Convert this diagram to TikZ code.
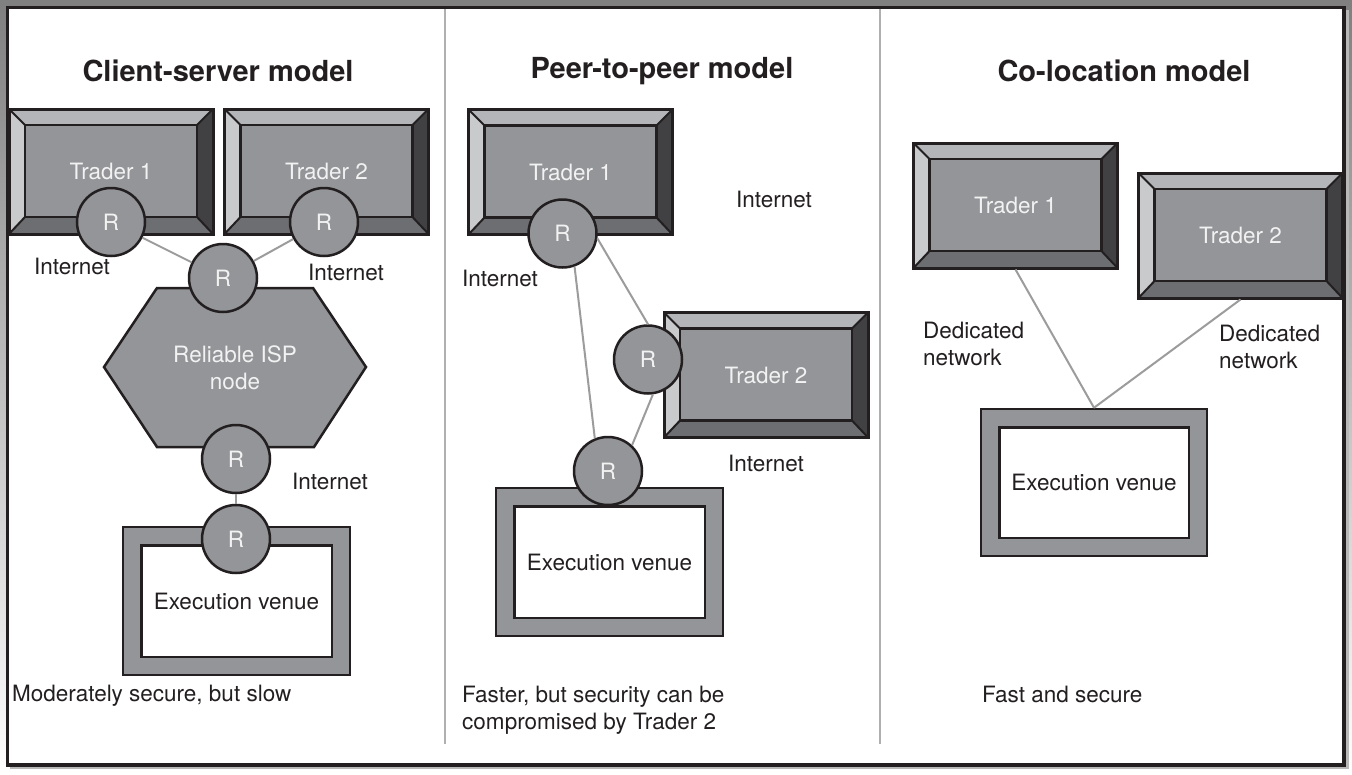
\documentclass[tikz,border=0pt]{standalone}
\usepackage{fontspec}
\setmainfont{TeX Gyre Heros}
\usetikzlibrary{calc}
\definecolor{ink}{HTML}{231F20}
\definecolor{face}{HTML}{939598}
\definecolor{bvtop}{HTML}{B3B5B8}
\definecolor{bvleft}{HTML}{C9CACC}
\definecolor{bvright}{HTML}{414042}
\definecolor{bvbot}{HTML}{6D6E71}
\definecolor{light}{HTML}{F2F2F2}
\definecolor{linkc}{HTML}{9C9C9C}
\definecolor{divc}{HTML}{B0B0B0}
\definecolor{shade}{HTML}{E4E4E4}
\definecolor{shadow}{HTML}{B8B8B8}
\newcommand\txtfont{\fontsize{22.5}{27}\selectfont}
\newcommand\ttlfont{\fontsize{29}{33}\selectfont\bfseries}
\tikzset{
  trader/.style={minimum width=204pt, minimum height=125pt, inner sep=0pt,
    draw=ink, line width=3pt, font=\txtfont, text=light,
    path picture={
      \coordinate (qA) at (path picture bounding box.north west);
      \coordinate (qB) at (path picture bounding box.north east);
      \coordinate (qC) at (path picture bounding box.south east);
      \coordinate (qD) at (path picture bounding box.south west);
      \coordinate (qa) at ([shift={(16pt,-16pt)}]qA);
      \coordinate (qb) at ([shift={(-16pt,-16pt)}]qB);
      \coordinate (qc) at ([shift={(-16pt,17pt)}]qC);
      \coordinate (qd) at ([shift={(16pt,17pt)}]qD);
      \fill[bvtop] (qA)--(qB)--(qb)--(qa)--cycle;
      \fill[bvleft] (qA)--(qa)--(qd)--(qD)--cycle;
      \fill[bvright] (qB)--(qC)--(qc)--(qb)--cycle;
      \fill[bvbot] (qD)--(qd)--(qc)--(qC)--cycle;
      \draw[ink, line width=2pt] (qA)--(qa) (qB)--(qb) (qC)--(qc) (qD)--(qd);
      \draw[ink, line width=2.5pt, fill=face] (qa) rectangle (qc);
    }},
  venue/.style={minimum width=227pt, minimum height=148pt, inner sep=0pt,
    draw=ink, fill=face, line width=2.5pt, font=\txtfont, text=ink,
    path picture={
      \draw[ink, line width=2.5pt, fill=white]
        ([shift={(18.5pt,-18.5pt)}]path picture bounding box.north west) rectangle
        ([shift={(-18pt,18pt)}]path picture bounding box.south east);
    }},
  router/.style={circle, minimum size=68pt, inner sep=0pt, draw=ink, fill=face,
    line width=2.5pt, font=\txtfont, text=light},
  hexs/.style={draw=ink, fill=face, line width=2.5pt, line join=miter},
  lbl/.style={font=\txtfont, text=ink, inner sep=0pt},
  ttl/.style={font=\ttlfont, text=ink, inner sep=0pt},
  link/.style={draw=linkc, line width=2pt},
  divider/.style={draw=divc, line width=1.5pt}
}
\begin{document}
\begin{tikzpicture}[x=1pt, y=-1pt]
\useasboundingbox (0,0) rectangle (1352,774);
% background and frame
\fill[shade] (0,0) rectangle (1352,774);
\fill[shadow] (10,10) rectangle (1349,769);
\filldraw[fill=white, draw=ink, line width=3.5pt] (7.5,7.5) rectangle (1344,765);
\draw[divider] (445,9) -- (445,744);
\draw[divider] (880,9) -- (880,744);

% ---------------- Panel 1: client-server
\node[ttl] (ttl1) at (218,71) {Client-server model};
\node[trader] (p1t1) at (111,171.5) {Trader 1};
\node[trader] (p1t2) at (326.5,171.5) {Trader 2};
\draw[hexs] (157,288) -- (313,288) -- (366,367) -- (314,447) -- (157,447) -- (104,367) -- cycle;
\node[lbl, text=light, align=center] (isp) at (235,368) {Reliable ISP\\node};
\node[venue] (p1ev) at (236.5,601) {Execution venue};
\node[router] (p1r1) at (111,222) {R};
\node[router] (p1r2) at (324,222) {R};
\node[router] (p1rm) at (223,278) {R};
\node[router] (p1rh) at (236,459) {R};
\node[router] (p1re) at (236,539) {R};
\draw[link] (p1r1) -- (p1rm);
\draw[link] (p1r2) -- (p1rm);
\draw[link] (p1rh) -- (p1re);
\node[lbl] (p1i1) at (72,266) {Internet};
\node[lbl] (p1i2) at (346,272) {Internet};
\node[lbl] (p1i3) at (330,481) {Internet};
\node[lbl, anchor=west] (p1note) at (12,695.5) {Moderately secure, but slow};

% ---------------- Panel 2: peer-to-peer
\node[ttl] (ttl2) at (662,71) {Peer-to-peer model};
\node[trader] (p2t1) at (570.5,172) {Trader 1};
\node[trader] (p2t2) at (766,375) {Trader 2};
\node[venue] (p2ev) at (609.5,562) {Execution venue};
\node[router] (p2r1) at (562.5,233.5) {R};
\node[router] (p2r2) at (648,359.5) {R};
\node[router] (p2r3) at (608,471) {R};
\draw[link] (p2r1.-8) -- (p2r2.90);
\draw[link] (p2r1.-70) -- (p2r3.112);
\draw[link] (p2r2.-82) -- (p2r3.47);
\node[lbl] (p2i1) at (774,199) {Internet};
\node[lbl] (p2i2) at (500,278) {Internet};
\node[lbl] (p2i3) at (766,463) {Internet};
\node[lbl, anchor=west, align=left] (p2note) at (462,710.5) {Faster, but security can be\\compromised by Trader 2};

% ---------------- Panel 3: co-location
\node[ttl] (ttl3) at (1124,71) {Co-location model};
\node[trader] (p3t1) at (1015.5,205.5) {Trader 1};
\node[trader] (p3t2) at (1240.5,235.5) {Trader 2};
\node[venue, minimum width=226pt, minimum height=147pt] (p3ev) at (1094,482.5) {Execution venue};
\draw[link] (p3t1.south) -- (p3ev.north);
\draw[link] (p3t2.south) -- (p3ev.north);
\node[lbl, anchor=west, align=left] (p3d1) at (923,344) {Dedicated\\network};
\node[lbl, anchor=west, align=left] (p3d2) at (1219,347) {Dedicated\\network};
\node[lbl, anchor=west] (p3note) at (982,694) {Fast and secure};
\end{tikzpicture}
\end{document}
